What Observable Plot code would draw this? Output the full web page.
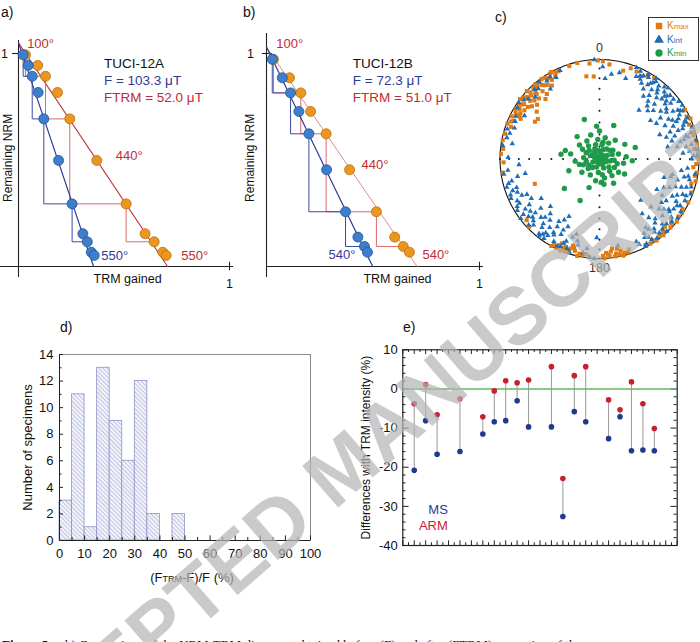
<!DOCTYPE html>
<html>
<head>
<meta charset="utf-8">
<script src="https://cdn.jsdelivr.net/npm/d3@7"></script>
<script src="https://cdn.jsdelivr.net/npm/@observablehq/plot@0.6"></script>
<style>
  html, body { margin: 0; padding: 0; background: #fff; }
  #fig { position: relative; width: 700px; height: 642px; overflow: hidden;
         font-family: "Liberation Sans", Arial, Helvetica, sans-serif; color: #111; }
  .panel { position: absolute; }
  .lab { position: absolute; font-size: 14px; line-height: 16px; }
  .legend { position: absolute; box-sizing: border-box; border: 1px solid #333; background: #fff; }
  .legend .row { position: absolute; left: 0; height: 12px; font-size: 10px; line-height: 12px; white-space: nowrap; }
  .legend .row svg { position: absolute; left: 5px; top: 1px; }
  .legend .row span.t { position: absolute; left: 18px; }
  .legend small { font-size: 8px; }
  .caption { position: absolute; left: 2px; top: 637px; white-space: nowrap;
             font: 13px "Liberation Serif", "Times New Roman", serif; }
  #mark { position: absolute; left: 0; top: 0; pointer-events: none; }
</style>
</head>
<body>
<div id="fig"></div>
<script>
// ---------------- data ----------------
// Arai (NRM–TRM) diagrams. Remaining NRM per step, TRM gained before (F) and after (FTRM) correction.
const labField = 35; // µT

const nrmA      = [0.994, 0.944, 0.893, 0.817, 0.693, 0.498, 0.294, 0.154, 0.116, 0.067, 0.052];
const trmA      = [0.022, 0.046, 0.065, 0.093, 0.120, 0.190, 0.254, 0.305, 0.326, 0.345, 0.359];
const trmCorrA  = [0.033, 0.091, 0.128, 0.185, 0.243, 0.371, 0.510, 0.600, 0.643, 0.684, 0.700];
const fieldA = 103.3, fieldTrmA = 52.0, nrmStartA = 1.05;

const nrmB      = [0.973, 0.886, 0.815, 0.728, 0.623, 0.454, 0.257, 0.138, 0.094, 0.067];
const trmB      = [0.027, 0.074, 0.113, 0.152, 0.199, 0.282, 0.371, 0.429, 0.460, 0.474];
const trmCorrB  = [0.033, 0.108, 0.161, 0.207, 0.280, 0.390, 0.516, 0.602, 0.642, 0.671];
const fieldB = 72.3, fieldTrmB = 51.0, nrmStartB = 1.03;

const checkSteps = [0, 2, 4, 6, 8]; // steps joined by the pTRM-check staircase

// AMS principal directions [declination, inclination], lower hemisphere
const kmax = [
  [331,0],[326,2],[319,1],[313,0],[309,2],[304,3],[299,4],[322,6],[316,8],[310,10],[303,11],[318,5],
  [312,13],[306,7],[300,9],[296,2],[325,10],[308,15],[314,4],[320,12],[303,27],[300,26],[290,6],[298,7],
  [293,4],[328,5],[335,3],[311,18],[333,3],[329,8],[324,1],[317,3],[311,6],[307,0],[302,6],[297,12],
  [315,15],[321,17],[327,13],[332,6],[330,1],[327,4],[323,8],[320,3],[316,10],[313,7],[310,4],[306,12],
  [305,5],[301,2],[298,10],[294,6],[291,1],[318,20],[307,22],
  [347,1],[351,17],[356,18],[2,2],[354,4],[342,2],[6,5],[359,1],
  [15,9],[23,5],[30,3],[19,4],[27,7],[34,2],
  [60,1],[69,4],[79,2],[89,2],[98,1],[105,5],[64,3],[84,5],[93,3],[74,2],[71,1],[86,1],[95,6],[110,2],[116,1],
  [66,0],[76,3],[81,1],[91,0],[100,3],[103,1],
  [134,1],[126,2],[139,3],[131,5],[145,0],[121,3],[129,0],[136,6],[142,2],[149,1],[123,1],[132,3],[140,0],[147,3],[152,2],
  [190,2],[195,5],[200,1],[204,8],[208,3],[197,10],[202,4],[193,0],[198,6],[206,1],[192,3],[199,3],[203,0],[196,8],
  [186,1],[188,4],[201,6],[205,5],[209,0],
  [163,2],[167,6],[171,1],[175,4],[177,0],[169,9],[165,3],[173,7],[170,4],[166,0],[174,2],[178,3],
  [162,5],[168,2],[172,10],[176,6],
  [281,1],[276,3],[285,2],[262,2],[268,4],[273,1],[249,31],[226,2],[230,5]
];
const kint = [
  [28,6],[34,9],[40,10],[46,10],[52,10],[58,8],[66,7],[45,23],[45,32],[39,37],[56,27],[69,25],
  [77,14],[81,7],[81,22],[30,2],[36,4],[42,3],[48,5],[54,2],[60,4],[63,12],[50,15],[43,17],
  [37,14],[55,19],[62,18],[70,12],[74,5],[33,12],[25,3],[48,28],[58,33],[40,25],[66,20],[72,30],
  [53,36],[80,31],[85,10],[22,1],[26,8],[31,5],[35,1],[39,6],[44,1],[47,8],[51,5],[57,1],[61,9],
  [65,3],[68,10],[71,2],[76,9],[79,1],[84,3],[88,6],
  [24,10],[29,14],[32,18],[38,20],[41,13],[44,7],[49,12],[53,17],[57,13],[60,21],[64,15],[67,6],
  [70,17],[73,22],[75,11],[78,18],[82,13],[86,17],[88,2],[90,8],[27,11],[35,7],[46,14],[59,6],
  [63,27],[52,23],[42,29],[35,24],[68,35],[76,26],
  [4,20],[13,12],[357,0],[8,15],[18,16],[2,8],
  [102,14],[107,4],[113,10],[119,13],[126,15],[132,16],[139,16],[145,15],[133,30],[114,30],[142,31],
  [104,27],[116,5],[127,2],[137,1],[144,2],[110,20],[122,22],[129,8],[136,10],[148,8],[118,35],
  [125,25],[140,24],[102,26],[135,41],[108,9],[151,3],[96,12],[99,3],[103,8],[111,2],[115,15],
  [120,7],[124,11],[128,19],[131,4],[138,6],[142,12],[147,4],[150,10],[155,6],[112,25],
  [98,18],[101,10],[105,20],[109,14],[113,6],[117,19],[121,10],[123,3],[127,13],[130,23],[134,7],
  [137,19],[141,5],[143,9],[146,18],[149,14],[152,1],[156,10],[106,33],[120,28],
  [243,8],[234,6],[225,7],[217,6],[209,6],[200,5],[233,14],[225,18],[216,16],[207,16],[222,27],
  [205,26],[195,16],[188,10],[253,3],[261,3],[259,25],[266,20],[271,9],[238,3],[229,12],[220,11],
  [212,21],[230,24],[245,15],[250,8],[215,3],[202,12],[240,22],[226,32],[197,22],[210,30],
  [198,2],[203,9],[206,3],[211,12],[214,8],[218,2],[221,15],[227,3],[231,9],[236,11],[240,5],
  [246,3],[248,12],[255,6],[219,22],[213,26],
  [190,5],[194,12],[199,18],[204,4],[207,21],[212,14],[216,9],[219,4],[223,21],[227,10],[230,17],
  [233,1],[237,17],[241,9],[244,20],[248,4],[251,13],[256,10],[258,17],[263,8],[208,35],[236,30],
  [319,7],[329,4],[336,3],[308,4],[283,5],[290,10],[300,14],[325,15],[278,2],[314,11],
  [322,2],[317,5],[305,1],[297,6],[288,3],[332,8],[326,6],[310,7],[302,3],[294,8],[286,7],[280,12],
  [182,22],[186,1],[183,0],[168,12]
];
const kmin = [
  [0,88],[45,86],[90,87],[135,88],[180,86],[225,87],[270,88],[315,85],[20,82],[65,83],[110,84],[155,82],
  [200,83],[245,84],[290,82],[335,81],[10,78],[50,79],[95,78],[140,77],[185,79],[230,78],[275,77],[320,76],
  [30,75],[75,74],[120,76],[165,74],[210,75],[255,73],[300,74],[345,78],[5,84],[60,89],[100,81],[150,85],
  [195,88],[240,80],[285,86],[330,88],[15,72],[40,70],[70,79],[130,80],[170,77],[260,79],[310,79],[355,74],
  [25,87],[80,85],[125,71],[175,71],[220,81],[265,70],[305,70],[340,69],[350,83],[35,80],[105,75],[160,88],
  [250,76],[295,78],[325,72],[0,67],[85,68],[190,72],[280,66],[12,76],[57,77],[143,73],[233,72],[318,83],
  [277,58],[230,52],[205,52],[339,55],[72,59],[93,63],[23,60],[170,69],[121,66],[284,61],[249,63],[60,66],
  [315,64],[355,63],[200,65],[150,67],[100,70]
];

// Histogram of (FTRM-F)/F
const binLower = [0, 5, 10, 15, 20, 25, 30, 35, 40, 45];
const binCount = [3, 11, 1, 13, 9, 6, 12, 2, 0, 2];
const binWidth = 5;

// Differences with TRM intensity (%)
const specimen = [1, 2, 3, 5, 7, 8, 9, 10, 11, 13, 14, 15, 16, 18, 19, 20, 21, 22];
const diffARM  = [-3.8, 1.1, -6.6, -2.5, -7.1, -0.5, 2.1, 1.6, 2.3, 5.7, -22.9, 3.4, 5.7, -2.8, -5.3, 1.8, -3.8, -10.1];
const diffMS   = [-20.8, -8.1, -16.7, -16.0, -11.5, -8.4, -8.1, -3.0, -9.7, -9.7, -32.6, -5.8, -8.4, -12.7, -7.1, -15.8, -15.6, -15.8];

// ---------------- styling ----------------
const FONT = '"Liberation Sans", Arial, Helvetica, sans-serif';
const baseStyle = {background: "transparent", overflow: "visible", fontFamily: FONT, fontSize: "13px", color: "#111"};
const PT_BLUE = "#3d7fcb", PT_BLUE_EDGE = "#22509a";
const PT_ORANGE = "#eb961f", PT_ORANGE_EDGE = "#b8700e";
const NAVY = "#2d3b98", RED = "#c22a35";
const K_ORANGE = "#e07b12", K_BLUE = "#1f6db6", K_GREEN = "#1f9a49";

const fig = document.getElementById("fig");
function place(node, left, top, width) {
  const div = document.createElement("div");
  div.className = "panel";
  div.style.left = left + "px";
  div.style.top = top + "px";
  if (width) div.style.width = width + "px";
  div.appendChild(node);
  fig.appendChild(div);
  return node;
}
function label(text, left, top) {
  const d = document.createElement("div");
  d.className = "lab";
  d.style.left = left + "px";
  d.style.top = top + "px";
  d.textContent = text;
  fig.appendChild(d);
}

// ---------------- panels a, b ----------------
function arai(o) {
  const before = o.nrm.map((y, i) => ({x: o.trm[i], y}));
  const after = o.nrm.map((y, i) => ({x: o.trmCorr[i], y}));
  const fit = (F) => [{x: 0, y: o.nrm0}, {x: o.nrm0 * labField / F, y: 0}];
  const stairs = (p) => checkSteps.map((i) => p[i]);
  const first = before[0], lastB = before[before.length - 1], lastA = after[after.length - 1];
  const mid = after[5];
  return Plot.plot({
    width: o.width, height: 295, margin: 0,
    x: {domain: [0, 1], range: o.xRange, axis: null},
    y: {domain: [0, 1], range: [266, 53], axis: null},
    style: baseStyle,
    marks: [
      Plot.ruleY([0], {x1: o.axisStart, x2: 1.019, stroke: "#222", strokeWidth: 1.1}),
      Plot.ruleX([0], {y1: -0.052, y2: o.axisTop, stroke: "#222", strokeWidth: 1.1}),
      Plot.ruleX([1], {y1: -0.02, y2: 0.02, stroke: "#222", strokeWidth: 1.1}),
      Plot.ruleY([1], {x1: o.tick1[0], x2: o.tick1[1], stroke: "#222", strokeWidth: 1.1}),
      Plot.line(fit(o.Ftrm), {x: "x", y: "y", stroke: o.redLine, strokeWidth: o.redWidth}),
      Plot.line(stairs(after), {x: "x", y: "y", curve: "step-before", stroke: "#d9575c", strokeWidth: 0.9}),
      Plot.line(fit(o.F), {x: "x", y: "y", stroke: NAVY, strokeWidth: 1.2}),
      Plot.line(stairs(before), {x: "x", y: "y", curve: "step-before", stroke: "#3a4aa6", strokeWidth: 1}),
      Plot.dot(after, {x: "x", y: "y", r: 5, fill: PT_ORANGE, stroke: PT_ORANGE_EDGE, strokeWidth: 0.8}),
      Plot.dot(before, {x: "x", y: "y", r: 5, fill: PT_BLUE, stroke: PT_BLUE_EDGE, strokeWidth: 0.8}),
      // step temperatures
      Plot.text([first], {x: "x", y: "y", text: () => "100°", dx: o.t100[0], dy: o.t100[1], textAnchor: "start", fill: RED, fontSize: 13}),
      Plot.text([mid], {x: "x", y: "y", text: () => "440°", dx: o.t440[0], dy: o.t440[1], textAnchor: "start", fill: RED, fontSize: 13}),
      Plot.text([lastB], {x: "x", y: "y", text: () => o.tHigh, dx: o.tHighB[0], dy: o.tHighB[1], textAnchor: o.tHighB[2], fill: NAVY, fontSize: 13}),
      Plot.text([lastA], {x: "x", y: "y", text: () => o.tHigh, dx: o.tHighA[0], dy: o.tHighA[1], textAnchor: "start", fill: RED, fontSize: 13}),
      // specimen and intensities
      Plot.text([o.name], {x: () => 0.405, y: () => 0.953, textAnchor: "start", fill: "#111", fontSize: 13.5}),
      Plot.text([`F = ${o.F.toFixed(1)} μT`], {x: () => 0.405, y: () => 0.873, textAnchor: "start", fill: NAVY, fontSize: 13.5}),
      Plot.text([`FTRM = ${o.Ftrm.toFixed(1)} μT`], {x: () => 0.405, y: () => 0.793, textAnchor: "start", fill: RED, fontSize: 13.5}),
      // axes text
      Plot.text(["Remaining NRM"], {x: () => o.yLabX, y: () => 0.51, rotate: -90, fontSize: 12}),
      Plot.text(["TRM gained"], {x: () => o.xLabX, y: () => -0.061, fontSize: 12.5}),
      Plot.text(["1"], {x: () => o.oneX, y: () => 1, fontSize: 12.5}),
      Plot.text(["1"], {x: () => 1, y: () => -0.08, fontSize: 12.5})
    ]
  });
}

place(arai({
  width: 240, xRange: [18, 229], axisStart: -0.085, axisTop: 1.061, tick1: [-0.028, 0.009],
  nrm: nrmA, trm: trmA, trmCorr: trmCorrA, F: fieldA, Ftrm: fieldTrmA, nrm0: nrmStartA,
  name: "TUCI-12A", redLine: "#c7333b", redWidth: 1.1,
  t100: [4, -11], t440: [19, -5], tHigh: "550°", tHighB: [7, 0, "start"], tHighA: [15, 0],
  yLabX: -0.05, xLabX: 0.517, oneX: -0.066
}), 0, 0, 240);

place(arai({
  width: 245, xRange: [26, 239], axisStart: 0, axisTop: 1.094, tick1: [-0.019, 0.028],
  nrm: nrmB, trm: trmB, trmCorr: trmCorrB, F: fieldB, Ftrm: fieldTrmB, nrm0: nrmStartB,
  name: "TUCI-12B", redLine: "#e07b80", redWidth: 0.9,
  t100: [4, -15.5], t440: [12, -5], tHigh: "540°", tHighB: [-12, 3, "end"], tHighA: [13, 3],
  yLabX: -0.075, xLabX: 0.615, oneX: -0.075
}), 240, 0, 245);

label("a)", 1, 4);
label("b)", 243, 4);

// ---------------- panel c: equal-area stereonet ----------------
const hemisphere = d3.geoCircle().center([0, 90]).radius(90).precision(1)();
const lon = (d) => 180 - d[0];   // declination measured clockwise from north (top)
const lat = (d) => d[1];
const crossDots = [0, 90, 180, 270].flatMap((dec) => d3.range(0, 81, 10).map((inc) => [dec, inc])).concat([[0, 90]]);

place(Plot.plot({
  width: 215, height: 290,
  marginLeft: 14.5, marginRight: 1.5, marginTop: 59, marginBottom: 32,
  projection: {type: "azimuthal-equal-area", rotate: [0, -90], domain: hemisphere, clip: false},
  style: baseStyle,
  marks: [
    Plot.geo([hemisphere], {stroke: "#111", strokeWidth: 1.1, fill: "none"}),
    Plot.dot(crossDots, {x: lon, y: lat, r: 1, fill: "#111"}),
    Plot.dot(kmax, {x: lon, y: lat, symbol: "square", r: 2.3, fill: K_ORANGE}),
    Plot.dot(kint, {x: lon, y: lat, symbol: "triangle", r: 2.0, fill: K_BLUE}),
    Plot.dot(kmin, {x: lon, y: lat, symbol: "circle", r: 2.7, fill: K_GREEN}),
    Plot.text(["0"], {x: () => 180, y: () => 0, dy: -12, fontSize: 12.5, fill: "#333"}),
    Plot.text(["180"], {x: () => 0, y: () => 0, dy: 9, fontSize: 12.5, fill: "#333"})
  ]
}), 485, 0, 215);
label("c)", 495, 9);

// legend
(function () {
  const lg = document.createElement("div");
  lg.className = "legend";
  Object.assign(lg.style, {left: "648px", top: "17px", width: "51px", height: "44px"});
  const rows = [
    {sym: d3.symbolSquare, color: K_ORANGE, sub: "max", top: 2},
    {sym: d3.symbolTriangle, color: K_BLUE, sub: "int", top: 16},
    {sym: d3.symbolCircle, color: K_GREEN, sub: "min", top: 29}
  ];
  for (const r of rows) {
    const row = document.createElement("div");
    row.className = "row";
    row.style.top = r.top + "px";
    row.style.color = r.color;
    row.innerHTML = `<svg width="10" height="10"><path transform="translate(5,5)" d="${d3.symbol(r.sym, 42)()}" fill="${r.color}"/></svg><span class="t">K<small>${r.sub}</small></span>`;
    lg.appendChild(row);
  }
  fig.appendChild(lg);
})();

// ---------------- panel d: histogram ----------------
const bins = binLower.map((x, i) => ({x1: x, x2: x + binWidth, n: binCount[i]})).filter((b) => b.n > 0);
const svgD = place(Plot.plot({
  width: 330, height: 300,
  marginLeft: 59, marginRight: 20, marginTop: 54, marginBottom: 60,
  x: {domain: [0, 100], ticks: d3.range(0, 101, 10), tickSize: 0, tickPadding: 8, label: null},
  y: {domain: [0, 14], ticks: d3.range(0, 15, 2), tickSize: 0, tickPadding: 6, label: null},
  style: baseStyle,
  marks: [
    Plot.frame({stroke: "#8a8a8a"}),
    Plot.rect(bins, {x1: "x1", x2: "x2", y1: 0, y2: "n", fill: "url(#hatch)", stroke: "#8d93c8", strokeWidth: 0.8}),
    Plot.ruleX(d3.range(0, 101, 5), {y1: 0, y2: (d) => (d % 10 === 0 ? 0.35 : 0.22), stroke: "#222"}),
    Plot.ruleY(d3.range(0, 15, 1), {x1: 0, x2: (d) => (d % 2 === 0 ? 1.6 : 1.0), stroke: "#222"}),
    Plot.ruleY([0], {stroke: "#222"}),
    Plot.ruleX([0], {stroke: "#222"}),
    Plot.text(["Number of specimens"], {frameAnchor: "left", dx: -32, rotate: -90, textAnchor: "middle", lineAnchor: "middle", fontSize: 13}),
    Plot.text(["(FTRM-F)/F (%)"], {frameAnchor: "bottom", dx: 7, dy: 37, textAnchor: "middle", lineAnchor: "middle", fontSize: 13})
  ]
}), 0, 300, 330);

(function () {
  const NS = "http://www.w3.org/2000/svg";
  const defs = document.createElementNS(NS, "defs");
  const pat = document.createElementNS(NS, "pattern");
  pat.setAttribute("id", "hatch");
  pat.setAttribute("width", "3");
  pat.setAttribute("height", "3");
  pat.setAttribute("patternUnits", "userSpaceOnUse");
  pat.setAttribute("patternTransform", "rotate(-45)");
  const bg = document.createElementNS(NS, "rect");
  bg.setAttribute("width", "3"); bg.setAttribute("height", "3"); bg.setAttribute("fill", "#f4f4fb");
  const ln = document.createElementNS(NS, "line");
  ln.setAttribute("x1", "0"); ln.setAttribute("y1", "0");
  ln.setAttribute("x2", "0"); ln.setAttribute("y2", "3");
  ln.setAttribute("stroke", "#8d93c8"); ln.setAttribute("stroke-width", "1");
  pat.appendChild(bg); pat.appendChild(ln);
  defs.appendChild(pat);
  svgD.insertBefore(defs, svgD.firstChild);
  for (const t of svgD.querySelectorAll("text")) {
    if (t.textContent === "(FTRM-F)/F (%)") {
      t.textContent = "(F";
      const sub = document.createElementNS(NS, "tspan");
      sub.setAttribute("font-size", "9");
      sub.textContent = "TRM";
      t.appendChild(sub);
      t.appendChild(document.createTextNode("-F)/F (%)"));
    }
  }
})();
label("d)", 60, 319);

// ---------------- panel e: differences with TRM intensity ----------------
const fmt = (d) => String(d);
place(Plot.plot({
  width: 370, height: 300,
  marginLeft: 72.3, marginRight: 23.3, marginTop: 49.3, marginBottom: 55,
  x: {domain: [0, 24], axis: null},
  y: {domain: [-40, 10], ticks: d3.range(-40, 11, 10), tickSize: 0, tickPadding: 5, tickFormat: fmt, label: null},
  style: baseStyle,
  marks: [
    Plot.ruleY(d3.range(-40, 11, 2), {x1: 0, x2: (d) => (d % 10 === 0 ? 0.55 : 0.28), stroke: "#222"}),
    Plot.ruleY(d3.range(-40, 11, 2), {x1: (d) => 24 - (d % 10 === 0 ? 0.55 : 0.28), x2: 24, stroke: "#222"}),
    Plot.ruleX(d3.range(0, 24.01, 0.5), {y1: -40, y2: (d) => -40 + (Number.isInteger(d) ? 1.2 : 0.7), stroke: "#222"}),
    Plot.ruleX(d3.range(0, 24.01, 0.5), {y1: (d) => 10 - (Number.isInteger(d) ? 1.2 : 0.7), y2: 10, stroke: "#222"}),
    Plot.ruleY([0], {stroke: "#62b965", strokeWidth: 1.6}),
    Plot.ruleX(specimen, {x: (d) => d, y1: (d, i) => diffMS[i], y2: (d, i) => diffARM[i], stroke: "#9a9a9a", strokeWidth: 1}),
    Plot.dot(specimen, {x: (d) => d, y: (d, i) => diffARM[i], r: 2.8, fill: "#c8202f"}),
    Plot.dot(specimen, {x: (d) => d, y: (d, i) => diffMS[i], r: 2.8, fill: "#1f3a8c"}),
    Plot.frame({stroke: "#222", strokeWidth: 1.2}),
    Plot.text(["MS"], {frameAnchor: "bottom-left", dx: 45, dy: -36, textAnchor: "end", lineAnchor: "middle", fill: "#2b3a9c", fontSize: 13}),
    Plot.text(["ARM"], {frameAnchor: "bottom-left", dx: 45, dy: -20, textAnchor: "end", lineAnchor: "middle", fill: "#cc2038", fontSize: 13}),
    Plot.text(["Differences with TRM intensity (%)"], {frameAnchor: "left", dx: -37, rotate: -90, textAnchor: "middle", lineAnchor: "middle", fontSize: 12})
  ]
}), 330, 300, 370);
label("e)", 403, 319);

// ---------------- caption line and watermark ----------------
const cap = document.createElement("div");
cap.className = "caption";
cap.innerHTML = "<b>Figure 5.</b> a-b) Comparison of the NRM-TRM diagrams obtained before (F) and after (FTRM) correction of the";
fig.appendChild(cap);

const wm = d3.create("svg").attr("id", "mark").attr("width", 700).attr("height", 642);
wm.append("text")
  .attr("transform", "translate(343,467) rotate(-41)")
  .attr("text-anchor", "middle")
  .attr("dominant-baseline", "central")
  .attr("font-family", FONT)
  .attr("font-weight", "bold")
  .attr("font-size", 80)
  .attr("fill", "#b4b4b4")
  .attr("fill-opacity", 0.7)
  .text("ACCEPTED MANUSCRIPT");
fig.appendChild(wm.node());
</script>
</body>
</html>
